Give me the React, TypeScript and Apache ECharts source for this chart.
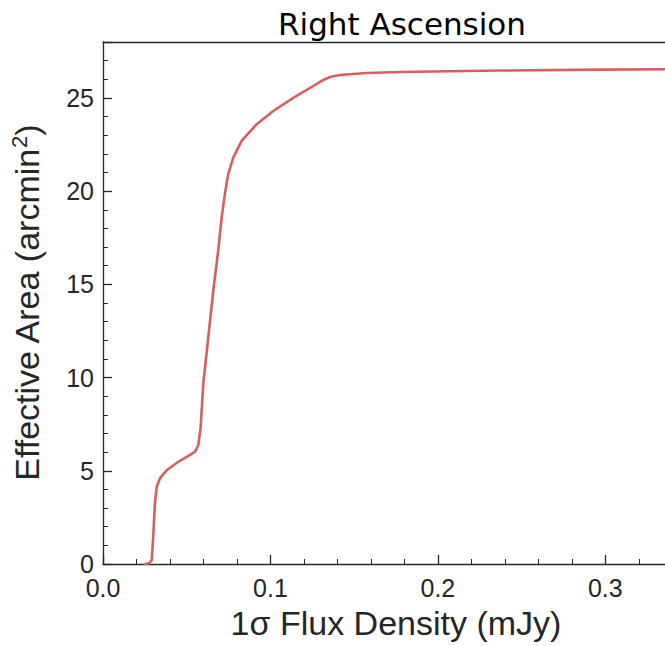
import React, { useEffect, useRef } from "react";
import * as echarts from "echarts";

const fluxDensity = [0.0251, 0.0276, 0.0291, 0.03, 0.031, 0.0321, 0.034, 0.038, 0.044, 0.05, 0.0549, 0.0569, 0.0583, 0.0599, 0.0629, 0.0659, 0.0688, 0.0709, 0.0728, 0.0748, 0.0778, 0.0828, 0.0918, 0.1017, 0.1136, 0.1256, 0.1306, 0.1356, 0.1415, 0.1574, 0.1773, 0.237, 0.297, 0.35];
const effectiveArea = [0, 0.04, 0.2, 1.46, 3.25, 4.14, 4.59, 5.03, 5.42, 5.74, 6.01, 6.37, 7.3, 9.67, 12.17, 14.67, 16.81, 18.6, 19.85, 20.92, 21.8, 22.7, 23.59, 24.3, 25.0, 25.64, 25.92, 26.12, 26.23, 26.34, 26.39, 26.47, 26.52, 26.55];

const titleText = "Right Ascension";
const xName = "1σ Flux Density (mJy)";

export default function App() {
  const ref = useRef<HTMLDivElement>(null);
  useEffect(() => {
    if (!ref.current) return;
    const chart = echarts.init(ref.current, undefined, { renderer: "svg" });
    const axisColor = "#262626";
    const data = fluxDensity.map((x, i) => [x, effectiveArea[i]]);
    chart.setOption({
      animation: false,
      title: {
        text: titleText,
        left: 397,
        top: 3,
        textAlign: "center",
        textStyle: { fontFamily: "DejaVu Sans", fontSize: 31, fontWeight: "normal", color: "#000" },
      },
      grid: { left: 103, right: 0, top: 42, bottom: 82 },
      xAxis: [
        {
          type: "value",
          min: 0,
          max: 0.35,
          interval: 0.1,
          name: xName,
          nameLocation: "middle",
          nameGap: 42,
          nameTextStyle: { fontFamily: "Liberation Sans", fontSize: 34, color: axisColor },
          axisLine: { show: true, onZero: false, lineStyle: { color: axisColor, width: 1.3 } },
          axisTick: { show: true, inside: true, length: 9, lineStyle: { color: axisColor, width: 1.3 } },
          minorTick: { show: true, splitNumber: 5, length: 5, lineStyle: { color: axisColor, width: 1 } },
          axisLabel: {
            fontFamily: "Liberation Sans",
            fontSize: 25,
            lineHeight: 24,
            color: axisColor,
            margin: 12,
            showMaxLabel: false,
            formatter: (v: number) => v.toFixed(1),
          },
          splitLine: { show: false },
        },
        {
          type: "value",
          position: "top",
          min: 0,
          max: 0.35,
          axisLine: { show: true, onZero: false, lineStyle: { color: axisColor, width: 1.3 } },
          axisTick: { show: false },
          axisLabel: { show: false },
          splitLine: { show: false },
        },
      ],
      yAxis: {
        type: "value",
        min: 0,
        max: 28,
        interval: 5,
        name: "Effective Area (arcmin{sup|2})",
        nameLocation: "middle",
        nameGap: 57,
        nameRotate: 90,
        nameTextStyle: {
          fontFamily: "Liberation Sans",
          fontSize: 34,
          color: axisColor,
          rich: {
            sup: { fontFamily: "Liberation Sans", fontSize: 22, color: axisColor, verticalAlign: "top", padding: [0, 0, 16, 0] },
          },
        },
        axisLine: { show: true, onZero: false, lineStyle: { color: axisColor, width: 1.3 } },
        axisTick: { show: true, inside: true, length: 9, lineStyle: { color: axisColor, width: 1.3 } },
        minorTick: { show: true, splitNumber: 5, length: 5, lineStyle: { color: axisColor, width: 1 } },
        axisLabel: { fontFamily: "Liberation Sans", fontSize: 25, lineHeight: 20, color: axisColor, margin: 9, showMaxLabel: false },
        splitLine: { show: false },
      },
      series: [
        {
          type: "line",
          data,
          showSymbol: false,
          smooth: false,
          lineStyle: { color: "#d65f5f", width: 2.6, join: "round", cap: "round" },
          clip: true,
        },
      ],
    });
    return () => chart.dispose();
  }, []);
  return (
    <div style={{ position: "fixed", left: 0, top: 0, width: 665, height: 646, overflow: "hidden", background: "#fff" }}>
      <div ref={ref} style={{ width: 689, height: 646 }} />
    </div>
  );
}
